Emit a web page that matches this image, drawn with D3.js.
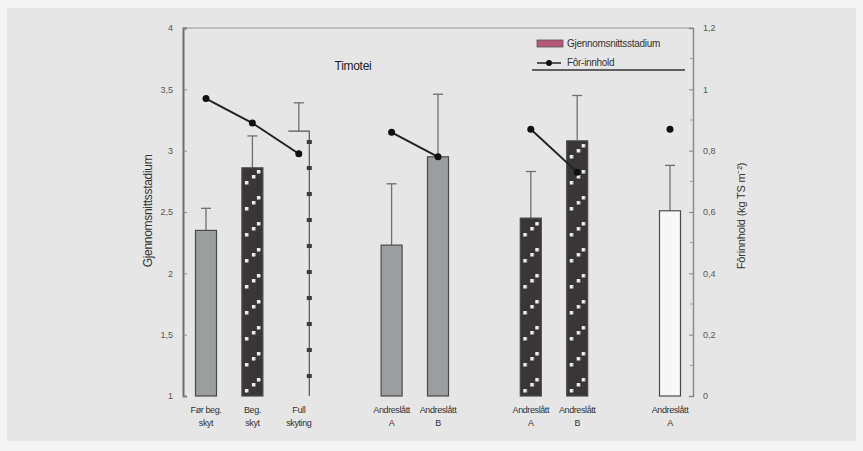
<!DOCTYPE html>
<html>
<head>
<meta charset="utf-8">
<script src="https://cdn.jsdelivr.net/npm/d3@7"></script>
<style>
  body { margin: 0; background: #f3f3f3; }
  svg { display: block; font-family: "Liberation Sans Narrow", "Liberation Sans", Arial, sans-serif; }
</style>
</head>
<body>
<div id="chart"></div>
<script>
// categories (two text lines each) and their slot on the x axis (gaps between groups)
const labels = [
  ['Før beg.', 'skyt'], ['Beg.', 'skyt'], ['Full', 'skyting'],
  ['Andreslått', 'A'], ['Andreslått', 'B'],
  ['Andreslått', 'A'], ['Andreslått', 'B'],
  ['Andreslått', 'A']
]
const slots = ['c0', 'c1', 'c2', 'gap1', 'c3', 'c4', 'gap2', 'c5', 'c6', 'gap3', 'c7']
const catSlot = ['c0', 'c1', 'c2', 'c3', 'c4', 'c5', 'c6', 'c7']

// bars: mean stage (left axis) with error (upper)
const stage    = [2.35, 2.86, 3.16, 2.23, 2.95, 2.45, 3.08, 2.51]
const stageErr = [0.18, 0.26, 0.23, 0.50, 0.51, 0.38, 0.37, 0.37]
const treatment = ['t1', 't2', 't3', 't1', 't1', 't2', 't2', 't4']

// line: content (right axis), connected inside each group
const content   = [0.97, 0.89, 0.79, 0.86, 0.78, 0.87, 0.73, 0.87]
const lineGroup = [1, 1, 1, 2, 2, 3, 3, 4]

const leftTicks  = [1, 1.5, 2, 2.5, 3, 3.5, 4]
const rightTicks = [0, 0.2, 0.4, 0.6, 0.8, 1, 1.2]

const W = 863, H = 451
const x0 = 183, x1 = 693, yTop = 28, yBot = 396
const barW = 21

const svg = d3.select('#chart').append('svg').attr('width', W).attr('height', H)
svg.append('rect').attr('x', 7).attr('y', 8).attr('width', 849).attr('height', 433).attr('fill', '#e6e6e7')

const x = d3.scalePoint().domain(slots).range([206, 670])
const yL = d3.scaleLinear().domain([1, 4]).range([yBot, yTop])
const yR = d3.scaleLinear().domain([0, 1.2]).range([yBot, yTop])
const comma = d => String(d).replace('.', ',')

// top frame line
svg.append('line').attr('x1', x0).attr('x2', x1).attr('y1', yTop).attr('y2', yTop)
  .attr('stroke', '#bdbdbd').attr('stroke-width', 2)

// left axis
const gL = svg.append('g').attr('transform', 'translate(' + x0 + ',0)')
  .call(d3.axisLeft(yL).tickValues(leftTicks).tickFormat(comma).tickSize(-4).tickPadding(10))
gL.select('.domain').attr('stroke', '#6d6d6d').attr('stroke-width', 2)
gL.selectAll('.tick line').attr('stroke', '#888')
gL.selectAll('.tick text').attr('fill', '#555').style('font-size', '9px')

// right axis
const gR = svg.append('g').attr('transform', 'translate(' + x1 + ',0)')
  .call(d3.axisRight(yR).tickValues(rightTicks).tickFormat(comma).tickSize(-4).tickPadding(10))
gR.select('.domain').attr('stroke', '#8a8a8a').attr('stroke-width', 1.5)
gR.selectAll('.tick line').attr('stroke', '#888')
gR.selectAll('.tick text').attr('fill', '#555').style('font-size', '9px')
// minor ticks on right axis
svg.append('g').selectAll('line').data(d3.range(0.1, 1.2, 0.2)).enter().append('line')
  .attr('x1', x1 - 3).attr('x2', x1).attr('y1', d => yR(d)).attr('y2', d => yR(d))
  .attr('stroke', '#999')

// pattern for dark bars
const defs = svg.append('defs')
const data = stage.map((v, i) => ({ i, v, err: stageErr[i], t: treatment[i], c: content[i], g: lineGroup[i], cx: x(catSlot[i]) }))
data.filter(d => d.t === 't2').forEach(d => {
  const p = defs.append('pattern').attr('id', 'pat' + d.i).attr('patternUnits', 'userSpaceOnUse')
    .attr('x', d.cx - barW / 2).attr('y', yBot).attr('width', barW).attr('height', 26)
  p.append('rect').attr('width', barW).attr('height', 26).attr('fill', '#3a3536')
  ;[[3, 19], [10, 13], [15, 8]].forEach(q => {
    p.append('rect').attr('x', q[0]).attr('y', q[1]).attr('width', 3.5).attr('height', 3.5).attr('fill', '#eeeeee')
  })
})

const fillOf = d => d.t === 't1' ? '#9a9e9e' : d.t === 't2' ? 'url(#pat' + d.i + ')' : d.t === 't4' ? '#f7f7f7' : 'none'

// error bars
const eb = svg.append('g')
eb.selectAll('line.v').data(data).enter().append('line')
  .attr('x1', d => d.cx).attr('x2', d => d.cx)
  .attr('y1', d => yL(d.v)).attr('y2', d => yL(d.v + d.err))
  .attr('stroke', '#6f6f6f').attr('stroke-width', 1.3)
eb.selectAll('line.c').data(data).enter().append('line')
  .attr('x1', d => d.cx - 5).attr('x2', d => d.cx + 5)
  .attr('y1', d => yL(d.v + d.err)).attr('y2', d => yL(d.v + d.err))
  .attr('stroke', '#6f6f6f').attr('stroke-width', 1.3)

// bars
svg.append('g').selectAll('rect').data(data.filter(d => d.t !== 't3')).enter().append('rect')
  .attr('x', d => d.cx - barW / 2).attr('width', barW)
  .attr('y', d => yL(d.v)).attr('height', d => yBot - yL(d.v))
  .attr('fill', fillOf).attr('stroke', '#4a4a4a').attr('stroke-width', 1.2)

// "Full skyting" bar: open bar with dotted right edge
data.filter(d => d.t === 't3').forEach(d => {
  const g = svg.append('g')
  const xr = d.cx + barW / 2, yt = yL(d.v)
  g.append('path').attr('d', 'M' + (d.cx - barW / 2) + ',' + yt + 'H' + xr + 'V' + yBot)
    .attr('fill', 'none').attr('stroke', '#555').attr('stroke-width', 1.2)
  g.selectAll('rect').data(d3.range(yt + 11, yBot - 10, 26)).enter().append('rect')
    .attr('x', xr - 2.5).attr('y', yy => yy - 2).attr('width', 5).attr('height', 4).attr('fill', '#3a3a3a')
})

// content line per group
const line = d3.line().x(d => d.cx).y(d => yR(d.c))
d3.groups(data, d => d.g).forEach(([k, pts]) => {
  if (pts.length > 1) {
    svg.append('path').attr('d', line(pts)).attr('fill', 'none').attr('stroke', '#222').attr('stroke-width', 2)
  }
})
svg.append('g').selectAll('circle').data(data).enter().append('circle')
  .attr('cx', d => d.cx).attr('cy', d => yR(d.c)).attr('r', 3.5).attr('fill', '#111')

// x labels
const xl = svg.append('g').selectAll('text').data(data).enter().append('text')
  .attr('x', d => d.cx).attr('text-anchor', 'middle').attr('fill', '#333')
  .style('font-size', '9px').style('letter-spacing', '-0.4px')
xl.append('tspan').attr('x', d => d.cx).attr('y', 413).text(d => labels[d.i][0])
xl.append('tspan').attr('x', d => d.cx).attr('y', 426).text(d => labels[d.i][1])

// title
svg.append('text').attr('x', 353).attr('y', 70).attr('text-anchor', 'middle')
  .attr('fill', '#222').style('font-size', '12px').style('letter-spacing', '-0.3px').text('Timotei')

// axis titles
svg.append('text').attr('transform', 'translate(152,211) rotate(-90)').attr('text-anchor', 'middle')
  .attr('fill', '#333').style('font-size', '12px').style('letter-spacing', '-0.3px').text('Gjennomsnittsstadium')
svg.append('text').attr('transform', 'translate(745,216) rotate(-90)').attr('text-anchor', 'middle')
  .attr('fill', '#333').style('font-size', '11px').style('letter-spacing', '-0.2px')
  .text('Fôrinnhold (kg TS m⁻²)')

// legend
const lg = svg.append('g').style('letter-spacing', '-0.3px')
lg.append('rect').attr('x', 537).attr('y', 40).attr('width', 26).attr('height', 7)
  .attr('fill', '#b5587a').attr('stroke', '#555').attr('stroke-width', 0.8)
lg.append('text').attr('x', 567).attr('y', 47).attr('fill', '#333').style('font-size', '10px').text('Gjennomsnittsstadium')
lg.append('line').attr('x1', 537).attr('x2', 561).attr('y1', 63).attr('y2', 63).attr('stroke', '#222').attr('stroke-width', 1.5)
lg.append('circle').attr('cx', 549).attr('cy', 63).attr('r', 3).attr('fill', '#111')
lg.append('text').attr('x', 567).attr('y', 66).attr('fill', '#333').style('font-size', '10px').text('Fôr-innhold')
lg.append('line').attr('x1', 532).attr('x2', 685).attr('y1', 70).attr('y2', 70).attr('stroke', '#333').attr('stroke-width', 1.5)
</script>
</body>
</html>
